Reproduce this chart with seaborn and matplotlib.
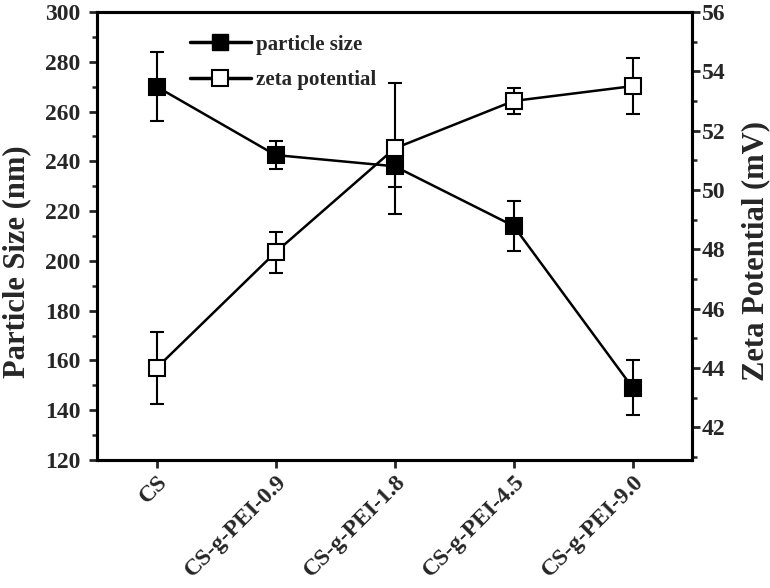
import numpy as np
import pandas as pd
import matplotlib
matplotlib.use("Agg")
import matplotlib.pyplot as plt
from matplotlib.lines import Line2D
from matplotlib.ticker import MultipleLocator, AutoMinorLocator
import seaborn as sns

# Data
samples = ["CS", "CS-g-PEI-0.9", "CS-g-PEI-1.8", "CS-g-PEI-4.5", "CS-g-PEI-9.0"]
size_nm = [270, 242.5, 238, 214, 149]
size_err = [14, 5.5, 8.5, 10, 11]
zeta_mv = [44.0, 47.9, 51.4, 53.0, 53.5]
zeta_err = [1.2, 0.7, 2.2, 0.45, 0.95]

df = pd.DataFrame({"sample": samples, "size": size_nm, "size_err": size_err,
                   "zeta": zeta_mv, "zeta_err": zeta_err})
df["x"] = np.arange(len(df))

sns.set_style("ticks")
plt.rcParams['font.family'] = ['Liberation Serif', 'DejaVu Serif']
plt.rcParams['font.weight'] = 'bold'

fig = plt.figure(figsize=(7.7, 5.88), dpi=100)
ax = fig.add_axes([0.126, 0.2177, 0.773, 0.762])
ax2 = ax.twinx()

# particle size (left axis)
ax.errorbar(df["x"], df["size"], yerr=df["size_err"], fmt="none", ecolor="black",
            elinewidth=1.5, capsize=5, capthick=1.5, zorder=2)
sns.lineplot(data=df, x="x", y="size", ax=ax, color="black", linewidth=1.8,
             marker="s", markersize=12, markerfacecolor="black",
             markeredgecolor="black", markeredgewidth=1.5, zorder=3)

# zeta potential (right axis)
ax2.errorbar(df["x"], df["zeta"], yerr=df["zeta_err"], fmt="none", ecolor="black",
             elinewidth=1.5, capsize=5, capthick=1.5, zorder=2)
sns.lineplot(data=df, x="x", y="zeta", ax=ax2, color="black", linewidth=1.8,
             marker="s", markersize=12, markerfacecolor="white",
             markeredgecolor="black", markeredgewidth=1.5, zorder=3)

ax.set_xlim(-0.5, 4.5)
ax.set_ylim(120, 300)
ax2.set_ylim(40.9, 56)

ax.yaxis.set_major_locator(MultipleLocator(20))
ax.yaxis.set_minor_locator(AutoMinorLocator(2))
ax2.yaxis.set_major_locator(MultipleLocator(2))
ax2.yaxis.set_minor_locator(AutoMinorLocator(2))

ax.set_xticks(df["x"])
ax.set_xticklabels(samples, rotation=45, ha="right", rotation_mode="anchor",
                   fontsize=17, fontweight="bold")
ax.set_xlabel("")
ax.set_ylabel("Particle Size (nm)", fontsize=22, fontweight="bold")
ax.yaxis.set_label_coords(-0.11, 0.442)
ax2.set_ylabel("Zeta Potential (mV)", fontsize=22, fontweight="bold")
ax2.yaxis.set_label_coords(1.083, 0.467)

for a in (ax, ax2):
    for s in a.spines.values():
        s.set_linewidth(2.2)
        s.set_color("black")
    a.tick_params(axis="y", which="major", direction="out", length=6, width=2,
                  labelsize=17)
    a.tick_params(axis="y", which="minor", direction="out", length=3.5, width=1.8)
    for lab in a.get_yticklabels():
        lab.set_fontweight("bold")
ax.tick_params(axis="y", which="major", pad=6)
ax2.tick_params(axis="y", which="major", pad=1)
ax.tick_params(axis="x", which="major", direction="out", length=6, width=2, pad=2)
ax.tick_params(axis="x", which="minor", bottom=False)

handles = [
    Line2D([], [], color="black", linewidth=2.5, marker="s", markersize=12,
           markerfacecolor="black", markeredgecolor="black"),
    Line2D([], [], color="black", linewidth=2.5, marker="s", markersize=12,
           markerfacecolor="white", markeredgecolor="black", markeredgewidth=1.5),
]
ax.legend(handles, ["particle size", "zeta potential"], loc="upper left",
          bbox_to_anchor=(0.125, 0.991), frameon=False, handlelength=2.9,
          handletextpad=0.25, labelspacing=0.75, prop={"size": 15, "weight": "bold"})

fig.savefig("out.png", dpi=100)
